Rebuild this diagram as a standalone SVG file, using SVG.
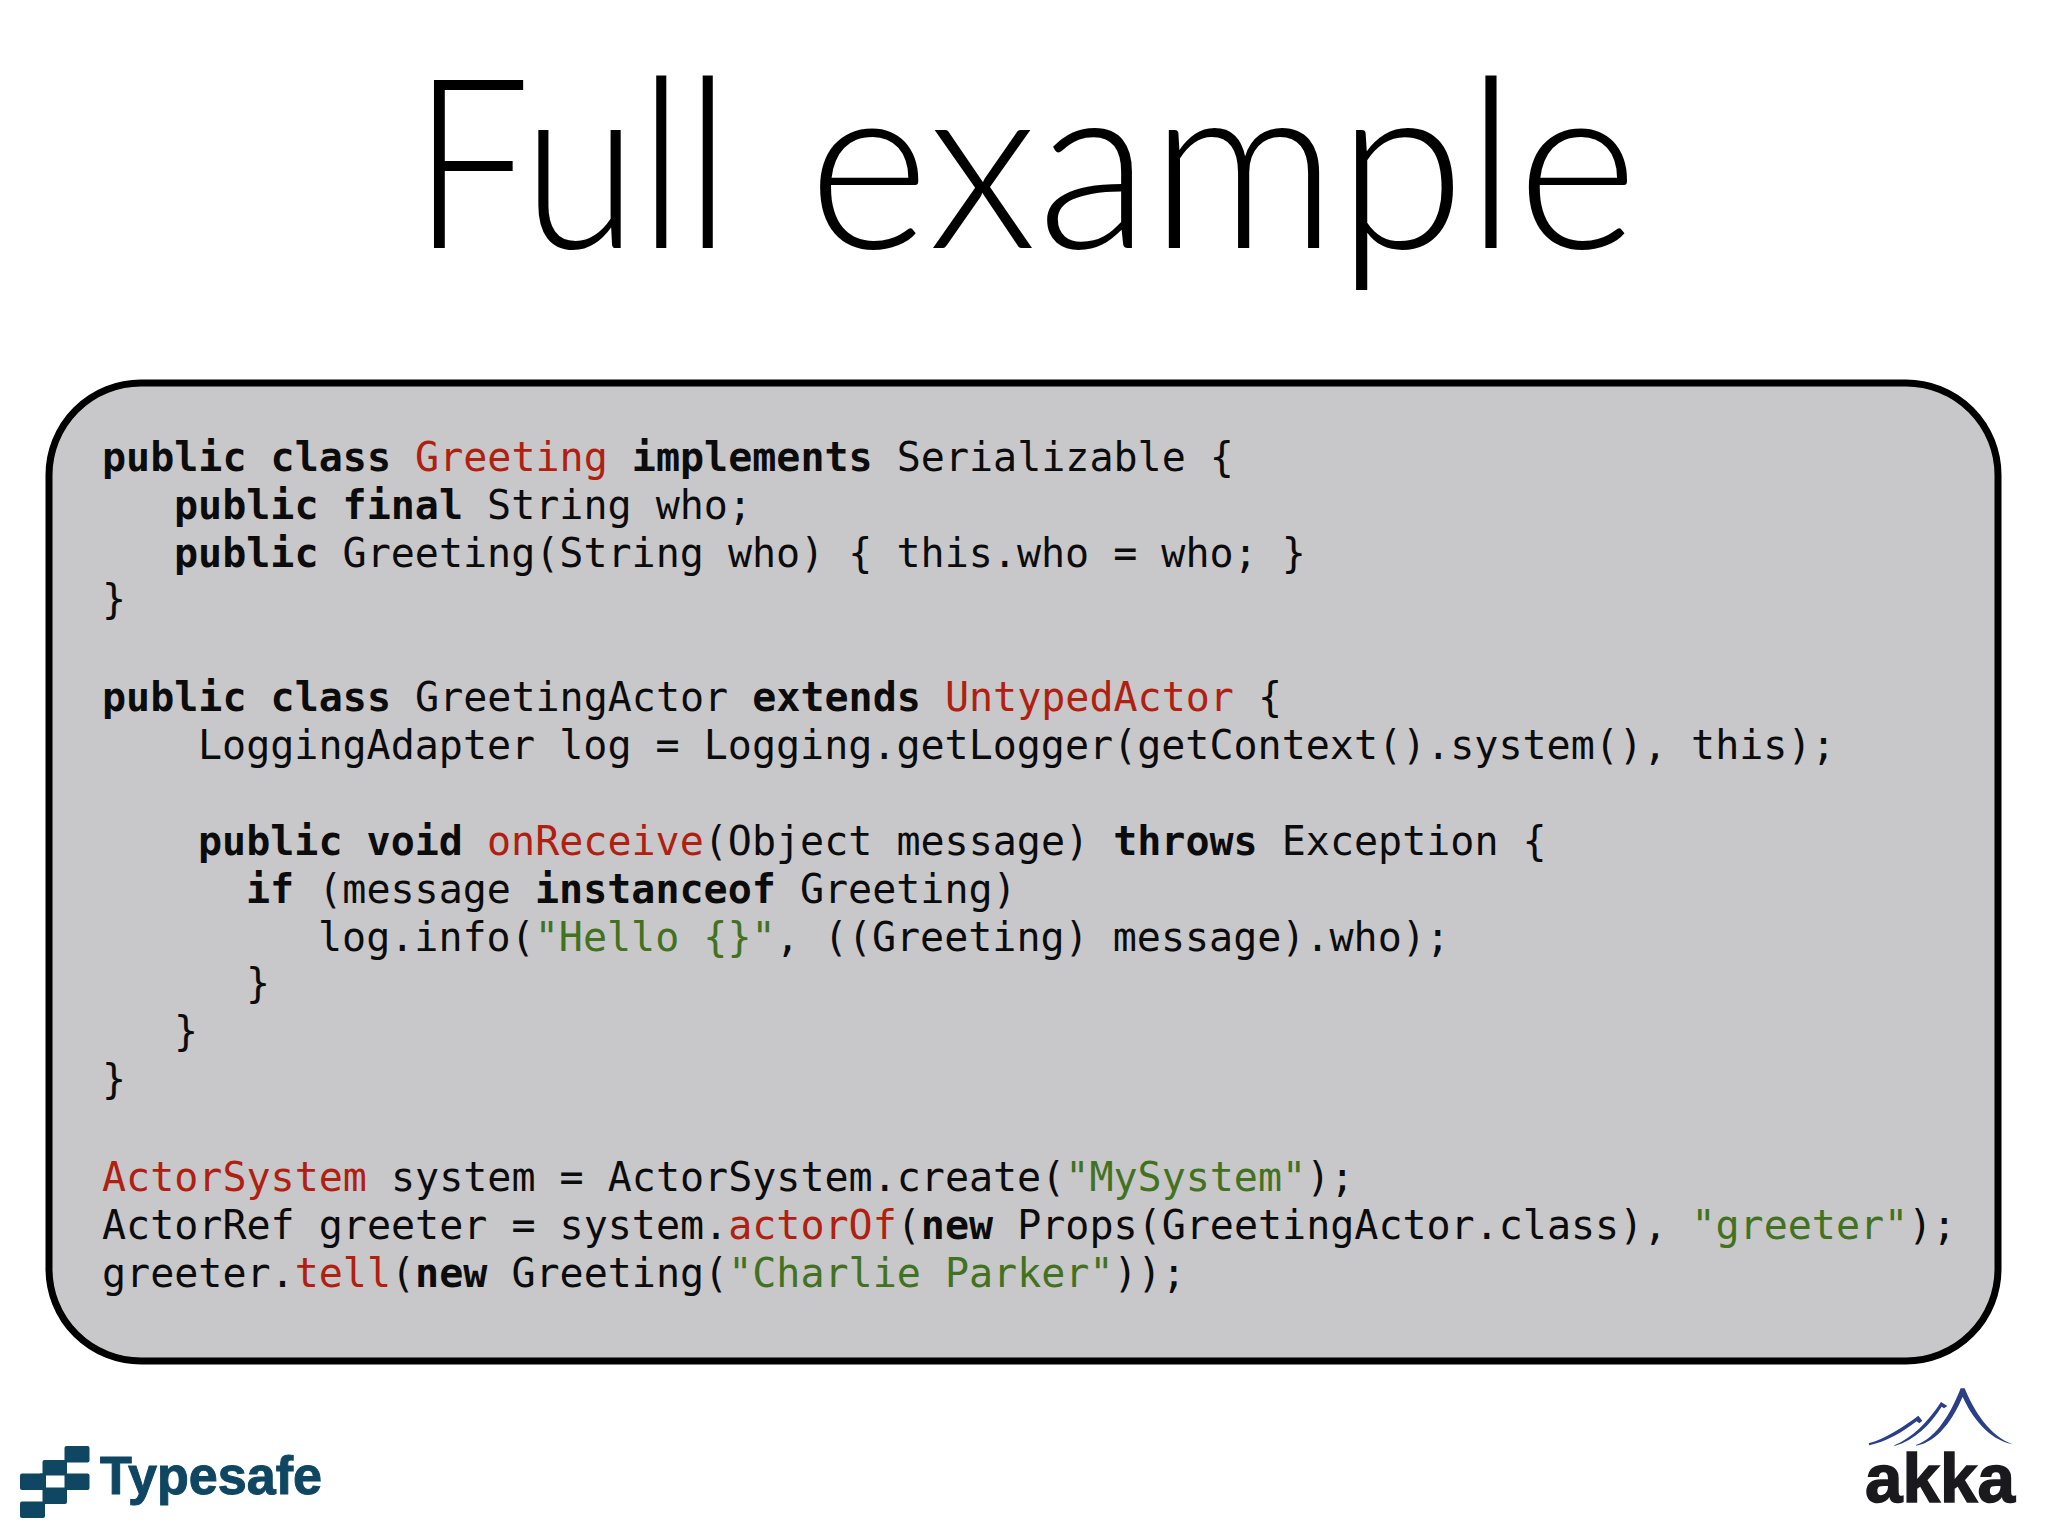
<svg xmlns="http://www.w3.org/2000/svg" width="2048" height="1536" viewBox="0 0 2048 1536">
<style>
.c{font-family:"DejaVu Sans Mono",monospace;font-size:40px;fill:#0c0c0c;white-space:pre}
.k{font-weight:700}
.r{fill:#b02010}
.g{fill:#42711f}
.t{font-family:Lato,sans-serif;font-weight:300;font-size:238px;fill:#000}
</style>
<rect width="2048" height="1536" fill="#fff"/>
<g id="title"><text class="t" x="412" y="248" textLength="319" lengthAdjust="spacingAndGlyphs">Full</text><text class="t" x="808" y="248" textLength="830" lengthAdjust="spacingAndGlyphs">example</text></g>
<g id="code-panel">
<rect x="49" y="383" width="1949" height="978" rx="92" ry="92" fill="#c8c7c9" stroke="#000" stroke-width="7"/>
<text class="c" x="102" y="471"><tspan class="k">public class</tspan> <tspan class="r">Greeting</tspan> <tspan class="k">implements</tspan> Serializable {</text>
<text class="c" x="174" y="519"><tspan class="k">public final</tspan> String who;</text>
<text class="c" x="174" y="567"><tspan class="k">public</tspan> Greeting(String who) { this.who = who; }</text>
<text class="c" x="102" y="613">}</text>
<text class="c" x="102" y="711"><tspan class="k">public class</tspan> GreetingActor <tspan class="k">extends</tspan> <tspan class="r">UntypedActor</tspan> {</text>
<text class="c" x="198" y="759">LoggingAdapter log = Logging.getLogger(getContext().system(), this);</text>
<text class="c" x="198" y="855"><tspan class="k">public void</tspan> <tspan class="r">onReceive</tspan>(Object message) <tspan class="k">throws</tspan> Exception {</text>
<text class="c" x="246" y="903"><tspan class="k">if</tspan> (message <tspan class="k">instanceof</tspan> Greeting)</text>
<text class="c" x="318" y="951">log.info(<tspan class="g">"Hello {}"</tspan>, ((Greeting) message).who);</text>
<text class="c" x="246" y="997">}</text>
<text class="c" x="174" y="1045">}</text>
<text class="c" x="102" y="1093">}</text>
<text class="c" x="102" y="1191"><tspan class="r">ActorSystem</tspan> system = ActorSystem.create(<tspan class="g">"MySystem"</tspan>);</text>
<text class="c" x="102" y="1239">ActorRef greeter = system.<tspan class="r">actorOf</tspan>(<tspan class="k">new</tspan> Props(GreetingActor.class), <tspan class="g">"greeter"</tspan>);</text>
<text class="c" x="102" y="1287">greeter.<tspan class="r">tell</tspan>(<tspan class="k">new</tspan> Greeting(<tspan class="g">"Charlie Parker"</tspan>));</text>
</g>
<g id="typesafe-logo">
<g fill="#0f4661">
<rect x="64.5" y="1446" width="25" height="16.500" rx="2"/>
<rect x="42.500" y="1460" width="24.500" height="15.500" rx="2"/>
<rect x="20" y="1473.500" width="25" height="16.500" rx="2"/>
<rect x="64.500" y="1473.500" width="25" height="16.500" rx="2"/>
<rect x="42.500" y="1487.500" width="24.500" height="16.500" rx="2"/>
<rect x="20" y="1501.500" width="25" height="16.500" rx="2"/>
<rect x="40" y="1473.500" width="6" height="16.500"/>
</g>
<text x="100" y="1494" textLength="222" lengthAdjust="spacingAndGlyphs" stroke="#0f4661" stroke-width="1" style="font-family:'Liberation Sans',sans-serif;font-weight:700;font-size:53px;fill:#0f4661">Typesafe</text>
</g>
<g id="akka-logo">
<g transform="translate(1840 1380) scale(.3333)" fill="#2b3f86">
<path d="M228 195C290 175 335 95 362 25L374 25C400 90 450 170 518 193C445 178 395 110 368 50C340 115 295 185 228 197Z"/>
<path d="M163 196C215 175 265 125 303 66L322 78L312 85L305 80C270 135 225 180 163 198Z"/>
<path d="M86 190C140 175 190 140 235 107L247 122L238 130L230 124C190 155 140 185 88 196Z"/>
</g>
<text x="1865" y="1502" textLength="150" lengthAdjust="spacingAndGlyphs" stroke="#1a1a1e" stroke-width="1.500" style="font-family:'Liberation Sans',sans-serif;font-weight:700;font-size:68px;fill:#1a1a1e">akka</text>
</g>
</svg>
